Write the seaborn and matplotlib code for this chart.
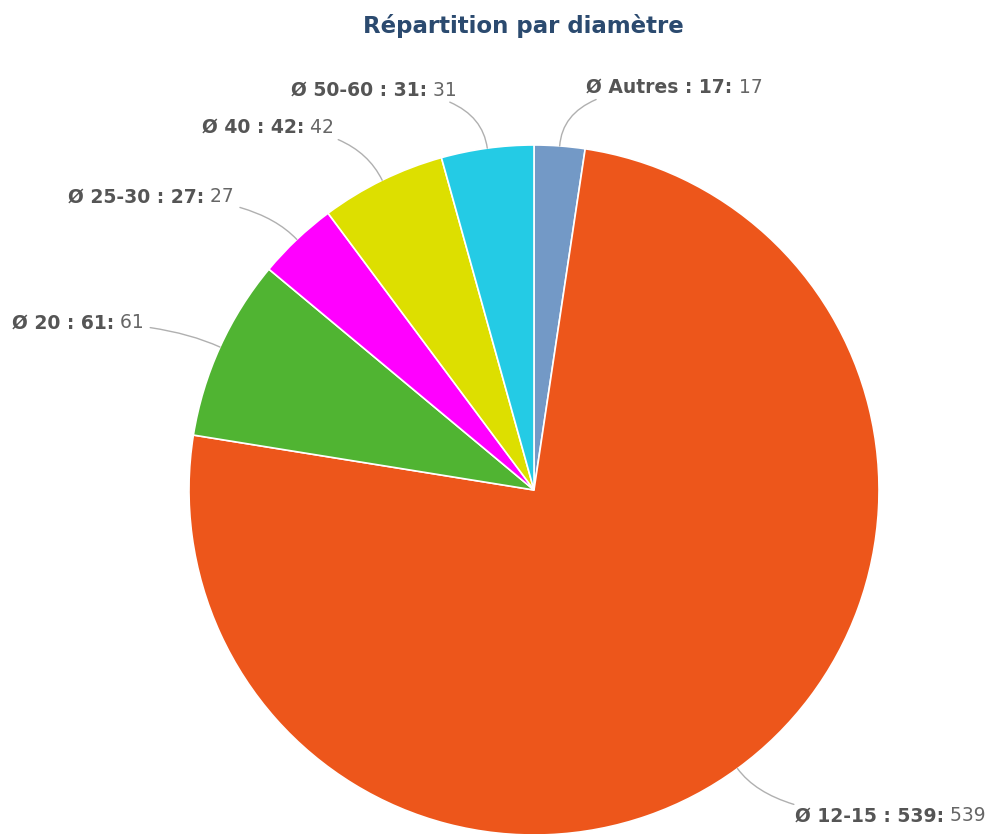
import numpy as np
import matplotlib
matplotlib.use("Agg")
import matplotlib.pyplot as plt
import seaborn as sns
from matplotlib.offsetbox import TextArea, HPacker, AnnotationBbox

sns.set_theme(style="white")
plt.rcParams['font.family'] = ['DejaVu Sans']

categories = ["Ø Autres", "Ø 12-15", "Ø 20", "Ø 25-30", "Ø 40", "Ø 50-60"]
values = [17, 539, 61, 27, 42, 31]
colors = ["#7399c6", "#ed561b", "#50b432", "#ff00ff", "#dddf00", "#24cbe5"]

fig = plt.figure(figsize=(9.99, 8.34), dpi=100)
W, H = 999, 834
cx, cy, R = 534, 490, 345
ax = fig.add_axes([(cx - R) / W, (H - cy - R) / H, 2 * R / W, 2 * R / H])
ax.axis("off")

wedges, _ = ax.pie(values, colors=colors, startangle=90, counterclock=False,
                   radius=1.0, wedgeprops=dict(edgecolor="white", linewidth=1.2))
ax.set_xlim(-1, 1)
ax.set_ylim(-1, 1)
ax.set_aspect("equal")
for w in wedges:
    w.set_clip_on(False)

total = sum(values)
start = 90.0
for cat, v, w in zip(categories, values, wedges):
    span = v / total * 360
    mid_deg = start - span / 2
    mid = np.deg2rad(mid_deg)
    start -= span
    ex, ey = np.cos(mid), np.sin(mid)
    ly = 1.17 * ey
    lx = 1.17 * ex
    right = ex >= 0
    tx = lx + (0.065 if right else -0.065)
    bold = TextArea(f"{cat} : {v}:", textprops=dict(fontsize=13.5, fontweight="bold", color="#555555"))
    norm = TextArea(f" {v}", textprops=dict(fontsize=13.5, color="#666666"))
    box = HPacker(children=[bold, norm], pad=0, sep=0, align="baseline")
    angB = (mid_deg % 360)
    ab = AnnotationBbox(box, (ex, ey), xybox=(tx, ly), xycoords="data", boxcoords="data",
                        box_alignment=(0.0 if right else 1.0, 0.5), frameon=False, pad=0,
                        annotation_clip=False,
                        arrowprops=dict(arrowstyle="-", color="#b0b0b0", lw=1.0,
                                        shrinkA=4, shrinkB=0,
                                        connectionstyle=f"angle3,angleA=0,angleB={angB:.2f}"))
    ax.add_artist(ab)

fig.text(0.5235, 1 - 26 / H, "Répartition par diamètre", ha="center", va="center",
         fontsize=16.5, fontweight="bold", color="#2b4a6f")

fig.savefig("out.png", dpi=100, facecolor="white")
